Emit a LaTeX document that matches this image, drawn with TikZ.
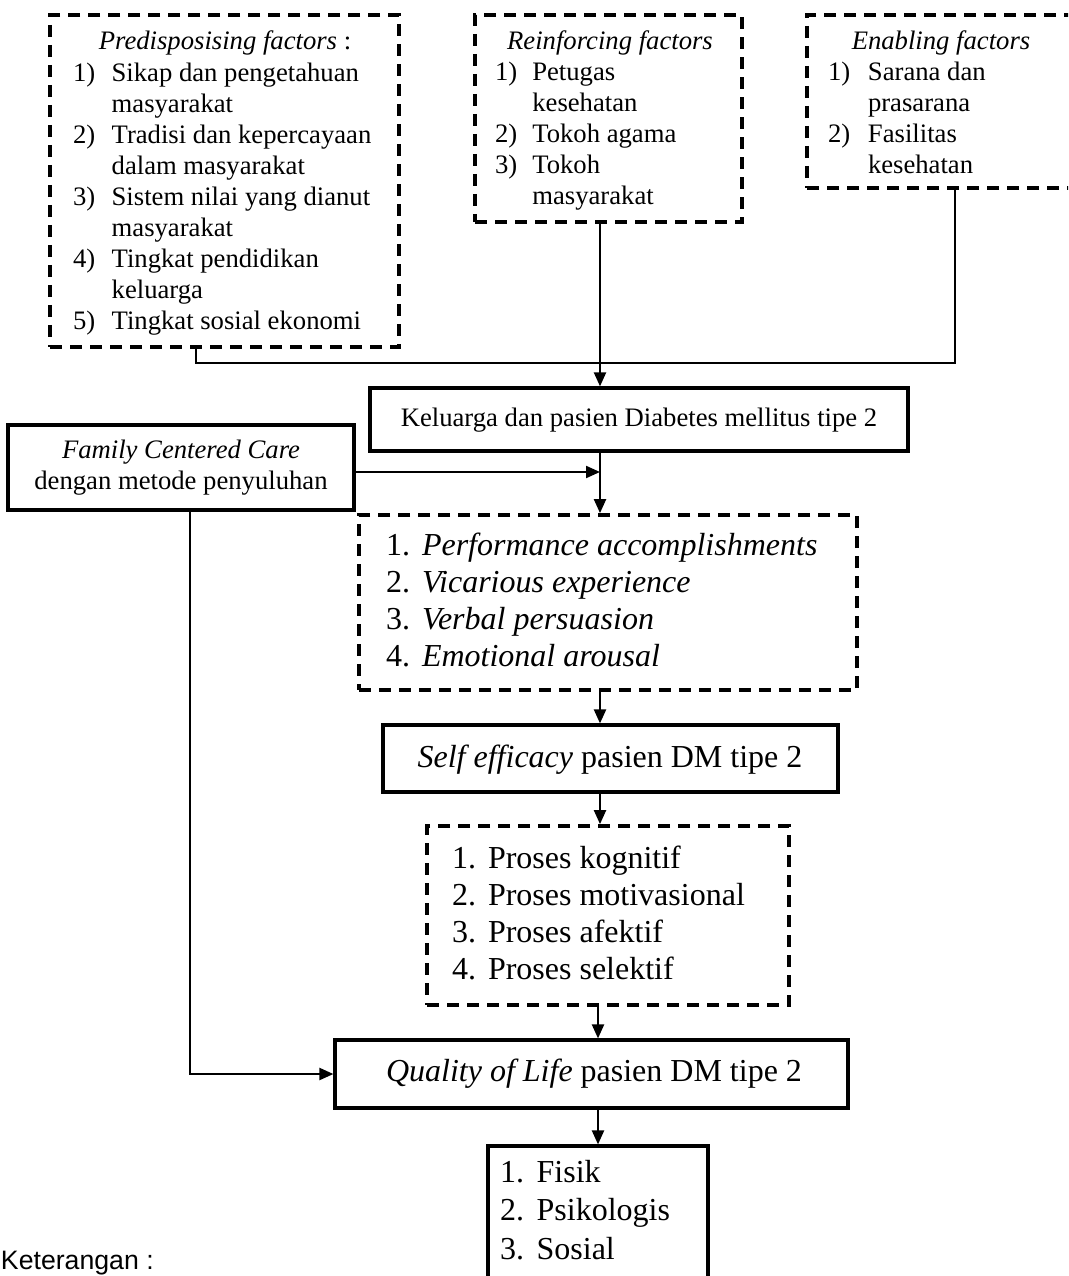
\documentclass[tikz,border=0pt]{standalone}
\usepackage{fontspec}
\setmainfont{Liberation Serif}
\newfontfamily\notefont{Liberation Sans}
\usetikzlibrary{arrows.meta,fit}

\newcommand\fsm{\fontsize{20pt}{23.25pt}\selectfont}
\newcommand\flg{\fontsize{24pt}{27.75pt}\selectfont}
\newcommand\fout{\fontsize{24pt}{28.9pt}\selectfont}

\begin{document}
\begin{tikzpicture}[x=0.75pt,y=-0.75pt,
  dbox/.style={draw, line width=2.8pt, dash pattern=on 9pt off 6pt, inner sep=0pt},
  sbox/.style={draw, line width=2.4pt, inner sep=0pt},
  txt/.style={inner sep=0pt, outer sep=0pt},
  link/.style={line width=1.6pt},
  arr/.style={line width=1.6pt, -{Triangle[length=10.5pt,width=9pt]}}]

\useasboundingbox (0,0) rectangle (1068,1276);
\clip (0,0) rectangle (1068,1276);

% ---------- factor boxes ----------
\node[dbox, fit={(50,15) (399,347)}] (pred) {};
\node[txt, font=\fsm, anchor=base] (predT) at (225,50) {\textit{Predisposising factors} :};
\node[txt, font=\fsm, anchor=base west] (predL) at (73,82) {%
  \begin{tabular}[t]{@{}p{29pt}@{}l@{}}
  1) & Sikap dan pengetahuan\\
     & masyarakat\\
  2) & Tradisi dan kepercayaan\\
     & dalam masyarakat\\
  3) & Sistem nilai yang dianut\\
     & masyarakat\\
  4) & Tingkat pendidikan\\
     & keluarga\\
  5) & Tingkat sosial ekonomi
  \end{tabular}};

\node[dbox, fit={(475,15) (742,222)}] (reinf) {};
\node[txt, font=\fsm, anchor=base] (reinfT) at (610,50) {\textit{Reinforcing factors}};
\node[txt, font=\fsm, anchor=base west] (reinfL) at (495,81) {%
  \begin{tabular}[t]{@{}p{28pt}@{}l@{}}
  1) & Petugas\\
     & kesehatan\\
  2) & Tokoh agama\\
  3) & Tokoh\\
     & masyarakat
  \end{tabular}};

\node[dbox, fit={(807,15) (1085,188)}] (enab) {};
\node[txt, font=\fsm, anchor=base] (enabT) at (941,50) {\textit{Enabling factors}};
\node[txt, font=\fsm, anchor=base west] (enabL) at (828,81) {%
  \begin{tabular}[t]{@{}p{30pt}@{}l@{}}
  1) & Sarana dan\\
     & prasarana\\
  2) & Fasilitas\\
     & kesehatan
  \end{tabular}};

% ---------- main chain ----------
\node[sbox, fit={(370,388) (908,451)}] (kel) {};
\node[txt, font=\fsm] (kelT) at (639,420) {Keluarga dan pasien Diabetes mellitus tipe 2};

\node[sbox, fit={(8,425) (354,510)}] (fcc) {};
\node[txt, font=\fsm, align=center] (fccT) at (181,468) {\textit{Family Centered Care}\\dengan metode penyuluhan};

\node[dbox, fit={(359,515) (857,690)}] (perf) {};
\node[txt, font=\flg, anchor=base west] (perfL) at (386,555) {%
  \begin{tabular}[t]{@{}p{27pt}@{}l@{}}
  1. & \textit{Performance accomplishments}\\
  2. & \textit{Vicarious experience}\\
  3. & \textit{Verbal persuasion}\\
  4. & \textit{Emotional arousal}
  \end{tabular}};

\node[sbox, fit={(383,725) (838,792)}] (self) {};
\node[txt, font=\flg] (selfT) at (610,760) {\textit{Self efficacy} pasien DM tipe 2};

\node[dbox, fit={(427,826) (789,1005)}] (proses) {};
\node[txt, font=\flg, anchor=base west] (prosesL) at (452,868) {%
  \begin{tabular}[t]{@{}p{27pt}@{}l@{}}
  1. & Proses kognitif\\
  2. & Proses motivasional\\
  3. & Proses afektif\\
  4. & Proses selektif
  \end{tabular}};

\node[sbox, fit={(335,1040) (848,1108)}] (qol) {};
\node[txt, font=\flg] (qolT) at (594,1074) {\textit{Quality of Life} pasien DM tipe 2};

\node[sbox, fit={(488,1146) (708,1320)}] (out) {};
\node[txt, font=\fout, anchor=base west] (outL) at (500,1182) {%
  \begin{tabular}[t]{@{}p{27.5pt}@{}l@{}}
  1. & Fisik\\
  2. & Psikologis\\
  3. & Sosial
  \end{tabular}};

\node[txt, font=\notefont\fontsize{20pt}{24pt}\selectfont, anchor=base west] (note) at (1,1269) {Keterangan :};

% ---------- connectors ----------
\coordinate (ax) at (600,0);
\coordinate (bx) at (598,0);
\coordinate (pj) at (196,363);
\coordinate (ej) at (955,363);
\coordinate (fj) at (600,472);
\coordinate (fq) at (190,0);

\draw[link] (pred.south -| pj) |- (ej) -- (enab.south -| ej);
\draw[arr] (reinf.south -| ax) -- (kel.north -| ax);
\draw[arr] (kel.south -| ax) -- (perf.north -| ax);
\draw[arr] (fcc.east |- fj) -- (fj);
\draw[arr] (perf.south -| ax) -- (self.north -| ax);
\draw[arr] (self.south -| ax) -- (proses.north -| ax);
\draw[arr] (proses.south -| bx) -- (qol.north -| bx);
\draw[arr] (qol.south -| bx) -- (out.north -| bx);
\draw[arr] (fcc.south -| fq) |- (qol.west);
\end{tikzpicture}
\end{document}
